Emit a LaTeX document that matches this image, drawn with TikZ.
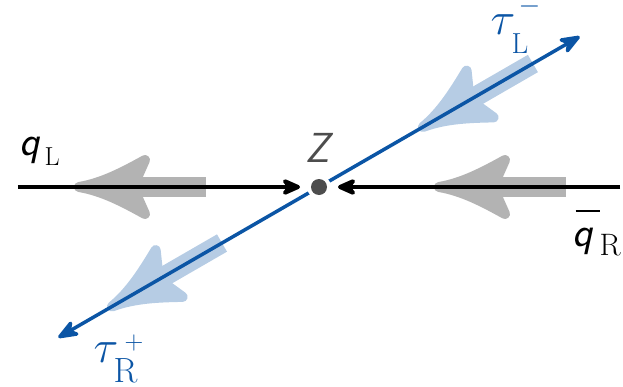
\RequirePackage{fix-cm}
\documentclass[tikz,border=0pt]{standalone}
\usetikzlibrary{arrows.meta}
\definecolor{taublue}{RGB}{11,85,165}
\definecolor{taulight}{RGB}{182,204,228}
\definecolor{spingray}{RGB}{179,179,179}
\definecolor{dotgray}{RGB}{77,77,77}
\tikzset{
  lab/.style={font=\fontsize{46}{52}\selectfont, inner sep=0pt},
  sflab/.style={font=\fontsize{42}{48}\selectfont\sffamily\slshape, inner sep=0pt},
  spin/.pic={
    \draw[line width=20pt, pic actions] (55,0) -- (133,0);
    \filldraw[line width=10pt, line join=round, pic actions]
      (6,0) .. controls (30,4) and (52,16) .. (72,27) -- (60,0) -- (72,-27)
      .. controls (52,-16) and (30,-4) .. (6,0) -- cycle;
  },
  quark/.style={line width=4.5pt, black, -{Stealth[length=24pt,width=21pt,inset=8pt,round]}},
  tauline/.style={line width=3.5pt, taublue, {Stealth[length=26pt,width=20pt,inset=8pt,round]}-{Stealth[length=26pt,width=20pt,inset=8pt,round]}},
}
% math piece placed at horizontal offset #1, vertical raise #2, font size #3
\newcommand{\piece}[4]{\rlap{\hspace*{#1}\raisebox{#2}{\fontsize{#3}{#3}\selectfont $#4$}}}
\begin{document}
\begin{tikzpicture}[x=1pt,y=1pt]
\useasboundingbox (-319,-199) rectangle (304,187);
% spin arrows
\pic[draw=spingray, fill=spingray] at (-246,0) {spin};
\pic[draw=spingray, fill=spingray] at (114,0) {spin};
\pic[draw=taulight, fill=taulight, rotate=30] at (30:114) {spin};
\pic[draw=taulight, fill=taulight, rotate=30] at (210:245) {spin};
% coordinates
\coordinate (qLend) at (-301,0);
\coordinate (qRend) at (301,0);
\coordinate (tLend) at (30:301);
\coordinate (tRend) at (210:301);
\coordinate (qLtip) at (-19,0);
\coordinate (qRtip) at (19,0);
% tau line
\draw[tauline] (tRend) -- (tLend);
% quark lines
\draw[quark] (qLend) -- (qLtip);
\draw[quark] (qRend) -- (qRtip);
% vertex
\node[circle, fill=white, minimum size=24pt, inner sep=0pt] (ring) at (0,0) {};
\node[circle, fill=dotgray, minimum size=16pt, inner sep=0pt] (dot) at (0,0) {};
% labels
\node[sflab, anchor=base, text=dotgray] (Z) at (-1,25) {Z};
\node[sflab, anchor=base west] (qL) at (-300,32)
  {\rlap{q}\piece{25pt}{-10pt}{26pt}{\mathrm{L}}};
\node[sflab, anchor=base west] (qR) at (253,-59)
  {\rlap{q}\rlap{\hspace*{3pt}\rule[34pt]{24pt}{2pt}}\piece{27pt}{-9pt}{31pt}{\mathrm{R}}};
\node[lab, anchor=base west, text=taublue] (tauL) at (171,152)
  {\rlap{$\tau$}\piece{21pt}{-18pt}{29pt}{\mathrm{L}}\piece{28pt}{22pt}{28pt}{-}};
\node[lab, anchor=base west, text=taublue] (tauR) at (-226,-175)
  {\rlap{$\tau$}\piece{20pt}{-20pt}{35pt}{\mathrm{R}}\piece{31pt}{13pt}{26pt}{+}};
\end{tikzpicture}
\end{document}
